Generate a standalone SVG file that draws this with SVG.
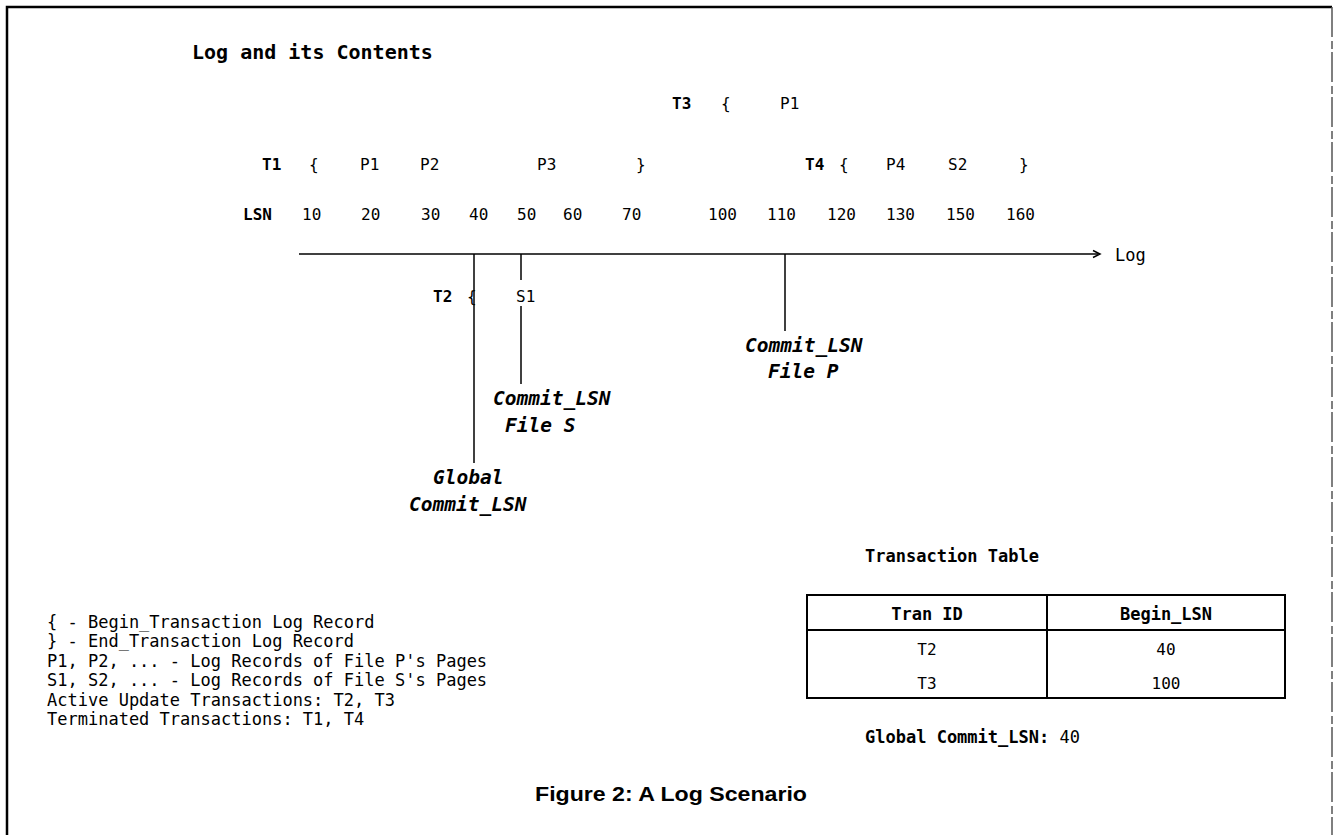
<svg xmlns="http://www.w3.org/2000/svg" width="1334" height="835" viewBox="0 0 1334 835">
<style>
  .m { font-family: "DejaVu Sans Mono", "Liberation Mono", monospace; font-size: 16px; fill: #000; }
  .b { font-weight: bold; }
  .t { font-family: "DejaVu Sans Mono", "Liberation Mono", monospace; font-size: 20px; font-weight: bold; fill: #000; }
  .lg { font-family: "DejaVu Sans Mono", "Liberation Mono", monospace; font-size: 17px; fill: #000; }
  .it { font-family: "DejaVu Sans Mono", "Liberation Mono", monospace; font-size: 19.5px; font-weight: bold; font-style: oblique; fill: #000; }
  .tb { font-family: "DejaVu Sans Mono", "Liberation Mono", monospace; font-size: 16px; fill: #000; }
  .th { font-family: "DejaVu Sans Mono", "Liberation Mono", monospace; font-size: 17px; font-weight: bold; fill: #000; }
  .cap { font-family: "Liberation Sans", Arial, sans-serif; font-size: 20px; font-weight: bold; fill: #000; }
  .ln { stroke: #000; stroke-width: 1.5; fill: none; }
</style>
<rect width="1334" height="835" fill="#fff"/>
<g id="frame">
  <path d="M7,835 V7 H1332" stroke="#000" stroke-width="2.5" fill="none"/>
  <path d="M1332,7 V835" stroke="#555" stroke-width="1.5" fill="none" stroke-dasharray="30,4,8,3"/>
</g>
<text id="title" class="t" x="192" y="59">Log and its Contents</text>
<g id="row-t3">
  <text class="m b" x="672" y="109">T3</text>
  <text class="m" x="721" y="109">{</text>
  <text class="m" x="780" y="109">P1</text>
</g>
<g id="row-t1">
  <text class="m b" x="262" y="170">T1</text>
  <text class="m" x="309" y="170">{</text>
  <text class="m" x="360" y="170">P1</text>
  <text class="m" x="420" y="170">P2</text>
  <text class="m" x="537" y="170">P3</text>
  <text class="m" x="636" y="170">}</text>
  <text class="m b" x="805" y="170">T4</text>
  <text class="m" x="839" y="170">{</text>
  <text class="m" x="886" y="170">P4</text>
  <text class="m" x="948" y="170">S2</text>
  <text class="m" x="1019" y="170">}</text>
</g>
<g id="row-lsn">
  <text class="m b" x="243" y="220">LSN</text>
  <text class="m" x="302" y="220">10</text>
  <text class="m" x="361" y="220">20</text>
  <text class="m" x="421" y="220">30</text>
  <text class="m" x="469" y="220">40</text>
  <text class="m" x="517" y="220">50</text>
  <text class="m" x="563" y="220">60</text>
  <text class="m" x="622" y="220">70</text>
  <text class="m" x="708" y="220">100</text>
  <text class="m" x="767" y="220">110</text>
  <text class="m" x="827" y="220">120</text>
  <text class="m" x="886" y="220">130</text>
  <text class="m" x="946" y="220">150</text>
  <text class="m" x="1006" y="220">160</text>
</g>
<g id="connectors">
  <line class="ln" x1="299" y1="254" x2="1098" y2="254"/>
  <path class="ln" d="M1093,250.5 L1100,254 L1093,257.5" stroke-width="1.2"/>
  <line class="ln" x1="474" y1="254" x2="474" y2="463"/>
  <line class="ln" x1="521" y1="254" x2="521" y2="280"/>
  <line class="ln" x1="521" y1="306" x2="521" y2="384"/>
  <line class="ln" x1="785" y1="254" x2="785" y2="331"/>
</g>
<text id="log-label" class="m" x="1115" y="261" style="font-size:17px">Log</text>
<g id="row-t2">
  <text class="m b" x="433" y="302">T2</text>
  <text class="m" x="467" y="302">{</text>
  <text class="m" x="516" y="302">S1</text>
</g>
<g id="commit-p">
  <text class="it" x="745" y="352">Commit_LSN</text>
  <text class="it" x="768" y="378">File P</text>
</g>
<g id="commit-s">
  <text class="it" x="493" y="405">Commit_LSN</text>
  <text class="it" x="505" y="432">File S</text>
</g>
<g id="global-commit">
  <text class="it" x="433" y="484">Global</text>
  <text class="it" x="409" y="511">Commit_LSN</text>
</g>
<g id="legend">
  <text class="lg" x="47" y="628">{ - Begin_Transaction Log Record</text>
  <text class="lg" x="47" y="647">} - End_Transaction Log Record</text>
  <text class="lg" x="47" y="667">P1, P2, ... - Log Records of File P's Pages</text>
  <text class="lg" x="47" y="686">S1, S2, ... - Log Records of File S's Pages</text>
  <text class="lg" x="47" y="706">Active Update Transactions: T2, T3</text>
  <text class="lg" x="47" y="725">Terminated Transactions: T1, T4</text>
</g>
<g id="transaction-table">
  <text class="th" x="865" y="562">Transaction Table</text>
  <rect x="807" y="595" width="478" height="103" fill="none" stroke="#000" stroke-width="2"/>
  <line x1="807" y1="630" x2="1285" y2="630" stroke="#000" stroke-width="2"/>
  <line x1="1047" y1="595" x2="1047" y2="698" stroke="#000" stroke-width="2"/>
  <text class="th" x="927" y="620" text-anchor="middle">Tran ID</text>
  <text class="th" x="1166" y="620" text-anchor="middle">Begin_LSN</text>
  <text class="tb" x="927" y="655" text-anchor="middle">T2</text>
  <text class="tb" x="1166" y="655" text-anchor="middle">40</text>
  <text class="tb" x="927" y="689" text-anchor="middle">T3</text>
  <text class="tb" x="1166" y="689" text-anchor="middle">100</text>
</g>
<text id="global-commit-value" class="th" x="865" y="743">Global Commit_LSN: <tspan font-weight="normal">40</tspan></text>
<text id="caption" class="cap" x="535" y="801" textLength="272" lengthAdjust="spacingAndGlyphs">Figure 2: A Log Scenario</text>
</svg>
